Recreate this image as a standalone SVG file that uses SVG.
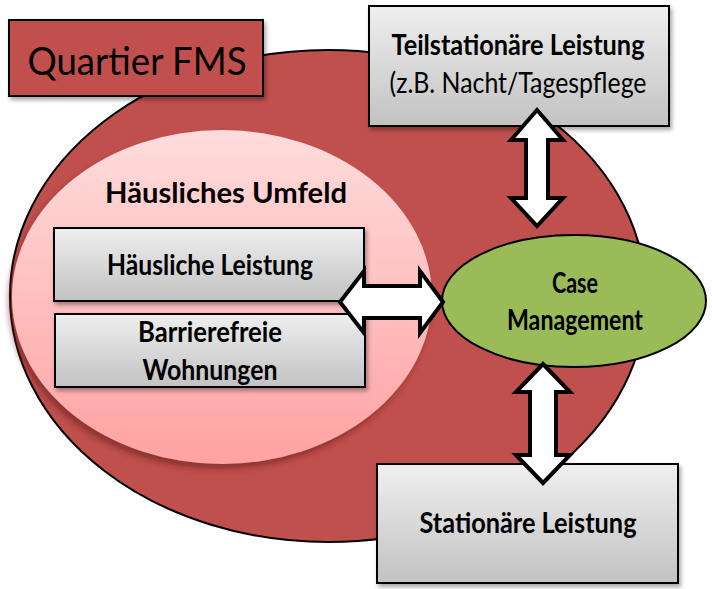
<svg xmlns="http://www.w3.org/2000/svg" width="712" height="589" viewBox="0 0 712 589">
  <defs>
    <linearGradient id="gray" x1="0" y1="0" x2="0" y2="1">
      <stop offset="0" stop-color="#efefef"/>
      <stop offset="1" stop-color="#c2c2c2"/>
    </linearGradient>
    <linearGradient id="pink" x1="0" y1="0" x2="0" y2="1">
      <stop offset="0" stop-color="#ffdcdc"/>
      <stop offset="1" stop-color="#ffa2a2"/>
    </linearGradient>
    <filter id="boxShadow" x="-10%" y="-10%" width="125%" height="130%">
      <feDropShadow dx="2" dy="3" stdDeviation="2" flood-color="#000" flood-opacity="0.35"/>
    </filter>
    <filter id="pinkShadow" x="-10%" y="-10%" width="120%" height="125%">
      <feDropShadow dx="-3" dy="5" stdDeviation="3" flood-color="#6a1a1a" flood-opacity="0.6"/>
    </filter>
    <style>
      .box { fill: url(#gray); stroke: #000; stroke-width: 2; filter: url(#boxShadow); }
      .t { font-family: Lato, "Liberation Sans", sans-serif; fill: #000; text-anchor: middle; }
      .b { font-weight: bold; font-size: 28px; }
      .r { font-size: 28px; }
      .arrow { fill: #fff; stroke: #000; stroke-width: 4; stroke-linejoin: miter; }
    </style>
  </defs>

  <g id="quartier-area">
    <ellipse cx="328" cy="296" rx="318" ry="246" fill="#c0504d" stroke="#000" stroke-width="2"/>
  </g>

  <g id="haeusliches-umfeld">
    <ellipse cx="222" cy="297" rx="210" ry="167" fill="url(#pink)" filter="url(#pinkShadow)"/>
    <text class="t b" x="226" y="203" textLength="242" lengthAdjust="spacingAndGlyphs">Häusliches Umfeld</text>
  </g>

  <g id="quartier-fms">
    <rect x="9" y="20" width="254" height="76" fill="#c0504d" stroke="#000" stroke-width="2" filter="url(#boxShadow)"/>
    <text class="t" x="137" y="75" font-size="38" textLength="219" lengthAdjust="spacingAndGlyphs">Quartier FMS</text>
  </g>

  <g id="teilstationaer">
    <rect class="box" x="369" y="6" width="300" height="120"/>
    <text class="t b" x="518" y="55" textLength="253" lengthAdjust="spacingAndGlyphs">Teilstationäre Leistung</text>
    <text class="t r" x="518" y="93" textLength="257" lengthAdjust="spacingAndGlyphs">(z.B. Nacht/Tagespflege</text>
  </g>

  <g id="haeusliche-leistung">
    <rect class="box" x="54" y="228" width="310" height="73"/>
    <text class="t b" x="210" y="275" textLength="206" lengthAdjust="spacingAndGlyphs">Häusliche Leistung</text>
  </g>

  <g id="barrierefreie-wohnungen">
    <rect class="box" x="55" y="314" width="310" height="73"/>
    <text class="t b" x="210" y="342" textLength="144" lengthAdjust="spacingAndGlyphs">Barrierefreie</text>
    <text class="t b" x="210" y="380" textLength="135" lengthAdjust="spacingAndGlyphs">Wohnungen</text>
  </g>

  <g id="stationaer">
    <rect class="box" x="377" y="464" width="301" height="119"/>
    <text class="t b" x="528" y="533" textLength="217" lengthAdjust="spacingAndGlyphs">Stationäre Leistung</text>
  </g>

  <g id="case-management">
    <ellipse cx="574" cy="301" rx="132" ry="66" fill="#9bbb59" stroke="#000" stroke-width="2"/>
    <text class="t b" x="575" y="293" textLength="46" lengthAdjust="spacingAndGlyphs">Case</text>
    <text class="t b" x="575" y="330" textLength="136" lengthAdjust="spacingAndGlyphs">Management</text>
  </g>

  <g id="connectors">
    <polygon class="arrow" points="537,110 563,140 548,140 548,198 563,198 537,226 511,198 526,198 526,140 511,140"/>
    <polygon class="arrow" points="340,302 364,271 364,286 420,286 420,271 443,302 420,333 420,318 364,318 364,333"/>
    <polygon class="arrow" points="543,364 570,392 556,392 556,455 570,455 543,483 516,455 530,455 530,392 516,392"/>
  </g>
</svg>
